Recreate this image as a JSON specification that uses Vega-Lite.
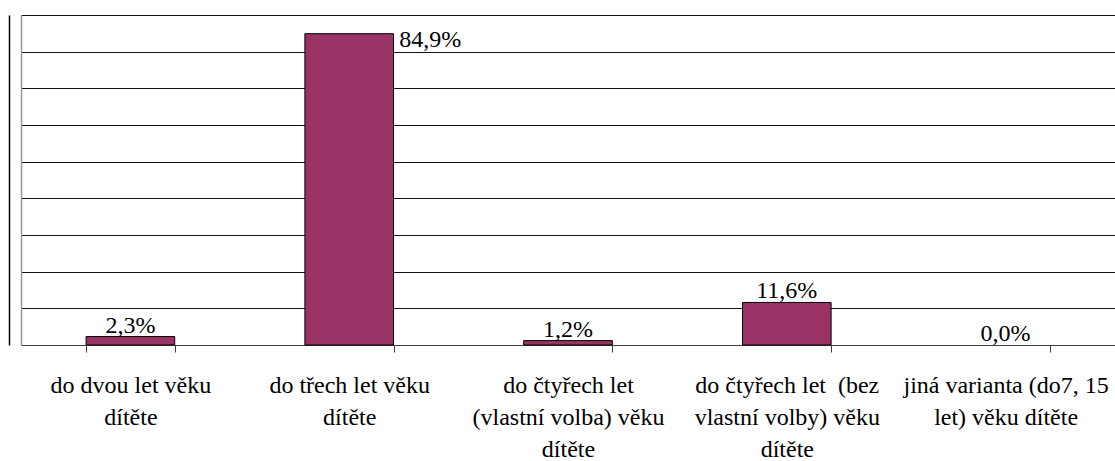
{
  "$schema": "https://vega.github.io/schema/vega-lite/v6.json",
  "width": 1094,
  "height": 330,
  "autosize": "none",
  "padding": {"left": 21, "top": 15, "right": 0, "bottom": 116},
  "background": "white",
  "config": {
    "font": "Liberation Serif",
    "axis": {"labelFont": "Liberation Serif"},
    "text": {"font": "Liberation Serif"},
    "view": {"stroke": null}
  },
  "data": {
    "values": [
      {"kategorie": "do dvou let věku dítěte", "podil": 2.3, "popisek": "2,3%"},
      {"kategorie": "do třech let věku dítěte", "podil": 84.9, "popisek": "84,9%"},
      {"kategorie": "do čtyřech let (vlastní volba) věku dítěte", "podil": 1.2, "popisek": "1,2%"},
      {"kategorie": "do čtyřech let  (bez vlastní volby) věku dítěte", "podil": 11.6, "popisek": "11,6%"},
      {"kategorie": "jiná varianta (do7, 15 let) věku dítěte", "podil": 0.0, "popisek": "0,0%"}
    ]
  },
  "encoding": {
    "x": {
      "field": "kategorie",
      "type": "nominal",
      "sort": null,
      "scale": {"paddingInner": 0.595, "paddingOuter": 0.2975},
      "axis": {
        "title": null,
        "labelAngle": 0,
        "labelFont": "Liberation Serif",
        "labelFontSize": 24,
        "labelColor": "black",
        "labelBaseline": "top",
        "labelPadding": 21,
        "labelLineHeight": 32,
        "labelLimit": 0,
        "labelOverlap": false,
        "tickBand": "extent",
        "tickSize": 7,
        "tickColor": "#404040",
        "domainColor": "#404040",
        "labelExpr": "datum.value == 'do dvou let věku dítěte' ? ['do dvou let věku', 'dítěte'] : datum.value == 'do třech let věku dítěte' ? ['do třech let věku', 'dítěte'] : datum.value == 'do čtyřech let (vlastní volba) věku dítěte' ? ['do čtyřech let', '(vlastní volba) věku', 'dítěte'] : datum.value == 'do čtyřech let  (bez vlastní volby) věku dítěte' ? ['do čtyřech let\u00a0 (bez', 'vlastní volby) věku', 'dítěte'] : datum.value == 'jiná varianta (do7, 15 let) věku dítěte' ? ['jiná varianta (do7, 15', 'let) věku dítěte'] : ''"
      }
    }
  },
  "layer": [
    {
      "mark": {"type": "bar", "color": "#993366", "stroke": "black", "strokeWidth": 1},
      "encoding": {
        "y": {
          "field": "podil",
          "type": "quantitative",
          "scale": {"domain": [0, 90], "nice": false},
          "axis": {
            "orient": "left",
            "title": null,
            "labels": false,
            "ticks": false,
            "grid": false,
            "domainColor": "#999999",
            "domainWidth": 1.5
          }
        },
        "strokeOpacity": {
          "condition": {"test": "datum.podil == 0", "value": 0},
          "value": 1
        }
      }
    },
    {
      "transform": [{"filter": "datum.podil < 50"}],
      "mark": {"type": "text", "font": "Liberation Serif", "fontSize": 24, "color": "black", "baseline": "alphabetic", "dy": -4},
      "encoding": {
        "y": {
          "field": "podil",
          "type": "quantitative",
          "scale": {"domain": [0, 90], "nice": false},
          "axis": {
            "orient": "left",
            "title": null,
            "labels": false,
            "ticks": false,
            "values": [0, 10, 20, 30, 40, 50, 60, 70, 80, 90],
            "grid": true,
            "gridColor": "#111111",
            "gridWidth": 1,
            "domainColor": "black",
            "domainWidth": 1.5,
            "offset": 12
          }
        },
        "text": {"field": "popisek"}
      }
    },
    {
      "transform": [{"filter": "datum.podil >= 50"}],
      "mark": {"type": "text", "font": "Liberation Serif", "fontSize": 24, "color": "black", "baseline": "alphabetic", "align": "left", "dx": 50, "dy": 13},
      "encoding": {
        "y": {
          "field": "podil",
          "type": "quantitative",
          "scale": {"domain": [0, 90], "nice": false},
          "axis": null
        },
        "text": {"field": "popisek"}
      }
    }
  ],
  "resolve": {"scale": {"y": "independent"}}
}
